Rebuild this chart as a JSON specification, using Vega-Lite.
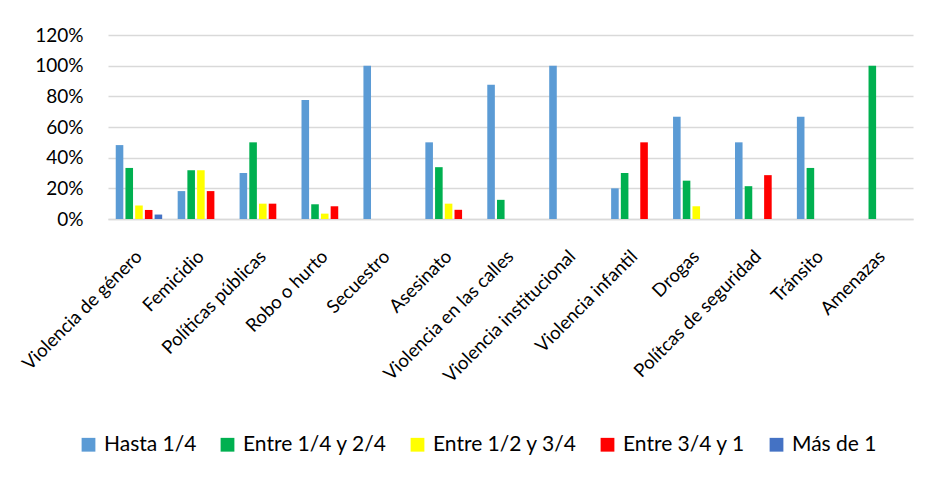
{
  "$schema": "https://vega.github.io/schema/vega-lite/v6.json",
  "autosize": "none",
  "width": 805,
  "height": 184,
  "padding": {"left": 108, "top": 35, "right": 20, "bottom": 264},
  "background": "white",
  "config": {
    "font": "Lato",
    "view": {"stroke": null}
  },
  "data": {
    "values": [
      {"cat": "Violencia de género", "serie": "Hasta 1/4", "v": 0.482},
      {"cat": "Violencia de género", "serie": "Entre 1/4 y 2/4", "v": 0.333},
      {"cat": "Violencia de género", "serie": "Entre 1/2 y 3/4", "v": 0.088},
      {"cat": "Violencia de género", "serie": "Entre 3/4 y 1", "v": 0.059},
      {"cat": "Violencia de género", "serie": "Más de 1", "v": 0.029},
      {"cat": "Femicidio", "serie": "Hasta 1/4", "v": 0.182},
      {"cat": "Femicidio", "serie": "Entre 1/4 y 2/4", "v": 0.318},
      {"cat": "Femicidio", "serie": "Entre 1/2 y 3/4", "v": 0.318},
      {"cat": "Femicidio", "serie": "Entre 3/4 y 1", "v": 0.182},
      {"cat": "Políticas públicas", "serie": "Hasta 1/4", "v": 0.30},
      {"cat": "Políticas públicas", "serie": "Entre 1/4 y 2/4", "v": 0.50},
      {"cat": "Políticas públicas", "serie": "Entre 1/2 y 3/4", "v": 0.10},
      {"cat": "Políticas públicas", "serie": "Entre 3/4 y 1", "v": 0.10},
      {"cat": "Robo o hurto", "serie": "Hasta 1/4", "v": 0.776},
      {"cat": "Robo o hurto", "serie": "Entre 1/4 y 2/4", "v": 0.096},
      {"cat": "Robo o hurto", "serie": "Entre 1/2 y 3/4", "v": 0.035},
      {"cat": "Robo o hurto", "serie": "Entre 3/4 y 1", "v": 0.083},
      {"cat": "Secuestro", "serie": "Hasta 1/4", "v": 1.0},
      {"cat": "Asesinato", "serie": "Hasta 1/4", "v": 0.50},
      {"cat": "Asesinato", "serie": "Entre 1/4 y 2/4", "v": 0.338},
      {"cat": "Asesinato", "serie": "Entre 1/2 y 3/4", "v": 0.10},
      {"cat": "Asesinato", "serie": "Entre 3/4 y 1", "v": 0.06},
      {"cat": "Violencia en las calles", "serie": "Hasta 1/4", "v": 0.875},
      {"cat": "Violencia en las calles", "serie": "Entre 1/4 y 2/4", "v": 0.125},
      {"cat": "Violencia institucional", "serie": "Hasta 1/4", "v": 1.0},
      {"cat": "Violencia infantil", "serie": "Hasta 1/4", "v": 0.20},
      {"cat": "Violencia infantil", "serie": "Entre 1/4 y 2/4", "v": 0.30},
      {"cat": "Violencia infantil", "serie": "Entre 3/4 y 1", "v": 0.50},
      {"cat": "Drogas", "serie": "Hasta 1/4", "v": 0.667},
      {"cat": "Drogas", "serie": "Entre 1/4 y 2/4", "v": 0.25},
      {"cat": "Drogas", "serie": "Entre 1/2 y 3/4", "v": 0.083},
      {"cat": "Polítcas de seguridad", "serie": "Hasta 1/4", "v": 0.50},
      {"cat": "Polítcas de seguridad", "serie": "Entre 1/4 y 2/4", "v": 0.214},
      {"cat": "Polítcas de seguridad", "serie": "Entre 3/4 y 1", "v": 0.286},
      {"cat": "Tránsito", "serie": "Hasta 1/4", "v": 0.667},
      {"cat": "Tránsito", "serie": "Entre 1/4 y 2/4", "v": 0.333},
      {"cat": "Amenazas", "serie": "Entre 1/4 y 2/4", "v": 1.0}
    ]
  },
  "mark": {"type": "bar"},
  "encoding": {
    "x": {
      "field": "cat",
      "type": "nominal",
      "sort": ["Violencia de género", "Femicidio", "Políticas públicas", "Robo o hurto", "Secuestro", "Asesinato", "Violencia en las calles", "Violencia institucional", "Violencia infantil", "Drogas", "Polítcas de seguridad", "Tránsito", "Amenazas"],
      "scale": {"paddingInner": 0.25, "paddingOuter": 0.125},
      "axis": {
        "title": null,
        "labelAngle": -45,
        "labelAlign": "right",
        "labelBaseline": "middle",
        "labelFontSize": 18.5,
        "labelColor": "#000000",
        "labelPadding": 34,
        "labelLimit": 300,
        "ticks": false,
        "domainColor": "#d9d9d9",
        "domainWidth": 1.5
      }
    },
    "xOffset": {
      "field": "serie",
      "type": "nominal",
      "sort": ["Hasta 1/4", "Entre 1/4 y 2/4", "Entre 1/2 y 3/4", "Entre 3/4 y 1", "Más de 1"],
      "scale": {"paddingInner": 0.22}
    },
    "y": {
      "field": "v",
      "type": "quantitative",
      "scale": {"domain": [0, 1.2]},
      "axis": {
        "title": null,
        "format": ".0%",
        "values": [0, 0.2, 0.4, 0.6, 0.8, 1.0, 1.2],
        "labelFontSize": 19,
        "labelColor": "#000000",
        "labelPadding": 25,
        "ticks": false,
        "domain": false,
        "gridColor": "#d9d9d9",
        "gridWidth": 1.5
      }
    },
    "color": {
      "field": "serie",
      "type": "nominal",
      "sort": ["Hasta 1/4", "Entre 1/4 y 2/4", "Entre 1/2 y 3/4", "Entre 3/4 y 1", "Más de 1"],
      "scale": {
        "domain": ["Hasta 1/4", "Entre 1/4 y 2/4", "Entre 1/2 y 3/4", "Entre 3/4 y 1", "Más de 1"],
        "range": ["#5B9BD5", "#00B050", "#FFFF00", "#FF0000", "#4472C4"]
      },
      "legend": {
        "title": null,
        "orient": "none",
        "direction": "horizontal",
        "legendX": -30,
        "legendY": 399,
        "symbolType": "square",
        "symbolSize": 190,
        "symbolStrokeWidth": 0,
        "symbolOpacity": 1,
        "labelFontSize": 21,
        "labelColor": "#000000",
        "labelOffset": 5,
        "columnPadding": 20,
        "labelLimit": 300
      }
    }
  }
}
